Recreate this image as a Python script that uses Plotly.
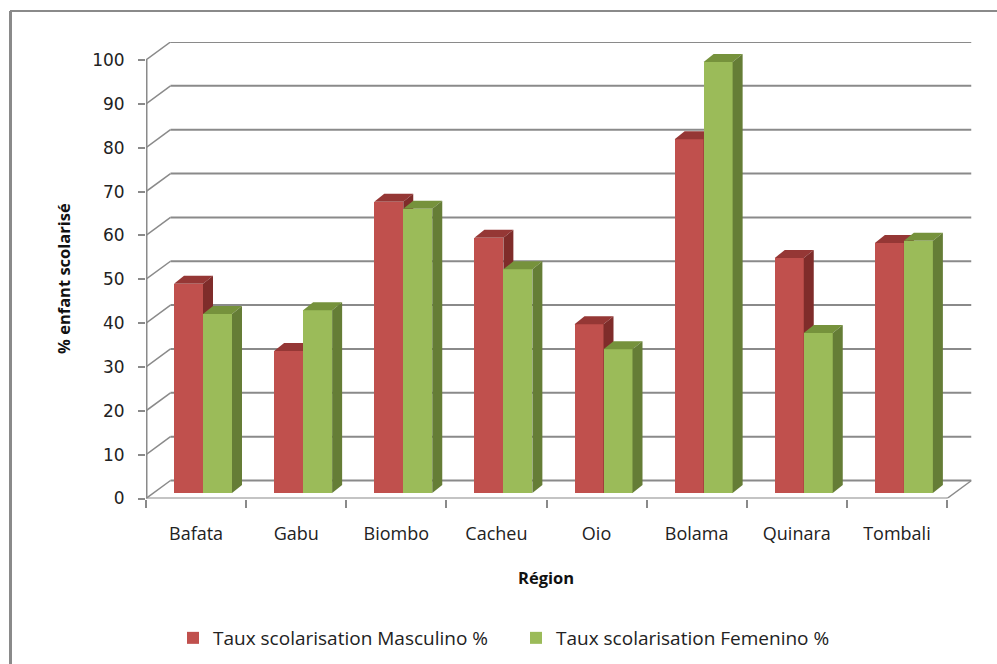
import plotly.graph_objects as go

categories = ["Bafata", "Gabu", "Biombo", "Cacheu", "Oio", "Bolama", "Quinara", "Tombali"]
masculino = [47.7, 32.4, 66.4, 58.2, 38.5, 80.7, 53.6, 57.0]
femenino = [40.8, 41.7, 64.8, 51.0, 32.8, 98.3, 36.5, 57.5]
y_ticks = list(range(0, 101, 10))
name_m = "Taux scolarisation Masculino %"
name_f = "Taux scolarisation Femenino %"

W, H = 997, 664
FONT = "Open Sans"
GRID = "#8a8a8a"
TEXT = "#222222"
RED = ("#C0504D", "#953735", "#7F2C2A")
GREEN = ("#9BBB59", "#76923C", "#657D36")

# Pixel layout of the pseudo-3D chart
X0, X1, Y0, Y100 = 146, 947, 498.5, 60
PXC = (X1 - X0) / len(categories)
PXV = (Y0 - Y100) / 100
WALL_DX, WALL_DY = 24.5 / PXC, 18 / PXV
BAR_DX, BAR_DY = 10 / PXC, 8 / PXV
BAR_BASE = 5.5 / PXV
BAR_W = 29 / PXC
BAR_OFF = 28 / PXC
x_max = len(categories) + WALL_DX
y_max = 100 + WALL_DY

fig = go.Figure()
pos = list(range(len(categories)))


def add_series(name, values, off, cols, xa, ya):
    fig.add_trace(go.Bar(x=pos, y=values, base=BAR_BASE, width=BAR_W, offset=off, name=name,
                         marker=dict(color=cols[0], line=dict(width=0)), xaxis=xa, yaxis=ya))
    for i, v in zip(pos, values):
        l, r = i + off, i + off + BAR_W
        b, t = BAR_BASE, BAR_BASE + v
        fig.add_trace(go.Scatter(x=[l, r, r + BAR_DX, l + BAR_DX, l], y=[t, t, t + BAR_DY, t + BAR_DY, t],
                                 fill="toself", fillcolor=cols[1], mode="none", showlegend=False,
                                 hoverinfo="skip", xaxis=xa, yaxis=ya))
        fig.add_trace(go.Scatter(x=[r, r + BAR_DX, r + BAR_DX, r, r], y=[b, b + BAR_DY, t + BAR_DY, t, b],
                                 fill="toself", fillcolor=cols[2], mode="none", showlegend=False,
                                 hoverinfo="skip", xaxis=xa, yaxis=ya))


add_series(name_m, masculino, BAR_OFF, RED, "x", "y")
add_series(name_f, femenino, BAR_OFF + BAR_W, GREEN, "x2", "y2")

shapes = []


def seg(x0, y0, x1, y1, w=2):
    shapes.append(dict(type="line", xref="x", yref="y", x0=x0, y0=y0, x1=x1, y1=y1,
                       layer="below", line=dict(color=GRID, width=w)))


for t in y_ticks:
    seg(0, t, WALL_DX, t + WALL_DY, 1.5)
    seg(WALL_DX, t + WALL_DY, x_max, t + WALL_DY, 2)
seg(0, 0, 0, 100, 3)
seg(0, 0, len(categories), 0, 2)
seg(len(categories), 0, x_max, WALL_DY, 1.5)

# Outer frame of the chart, open to the right and bottom
shapes.append(dict(type="line", xref="paper", yref="paper", x0=10 / W, x1=1, y0=1 - 11 / H, y1=1 - 11 / H,
                   line=dict(color=GRID, width=2)))
shapes.append(dict(type="line", xref="paper", yref="paper", x0=10.5 / W, x1=10.5 / W, y0=0, y1=1 - 11 / H,
                   line=dict(color=GRID, width=3)))

x_dom = [X0 / W, (X0 + x_max * PXC) / W]
y_dom = [1 - Y0 / H, 1 - (Y0 - y_max * PXV) / H]

fig.update_layout(
    width=W, height=H, margin=dict(l=0, r=0, t=0, b=0, pad=0),
    paper_bgcolor="white", plot_bgcolor="rgba(0,0,0,0)",
    barmode="overlay", bargap=0, shapes=shapes,
    font=dict(family=FONT, size=16, color=TEXT),
    xaxis=dict(domain=x_dom, range=[0, x_max], automargin=False, showgrid=False, zeroline=False, showline=False,
               tickmode="array", tickvals=[i + 0.5 for i in pos], ticktext=categories, ticks="",
               ticklabelstandoff=22, tickfont=dict(size=18, family=FONT, color=TEXT),
               minor=dict(ticks="outside", tickmode="linear", tick0=0, dtick=1, ticklen=8,
                          tickwidth=2, tickcolor=GRID, showgrid=False)),
    yaxis=dict(domain=y_dom, range=[0, y_max], automargin=False, showgrid=False, zeroline=False, showline=False,
               tickmode="array", tickvals=y_ticks, ticks="outside", ticklen=7, tickwidth=2, tickcolor=GRID,
               ticklabelstandoff=10, tickfont=dict(size=17, family="DejaVu Sans", color=TEXT)),
    xaxis2=dict(domain=x_dom, range=[0, x_max], automargin=False, overlaying="x", visible=False),
    yaxis2=dict(domain=y_dom, range=[0, y_max], automargin=False, overlaying="y", visible=False),
    legend=dict(orientation="h", x=173 / W, xanchor="left", y=1 - 638 / H, yanchor="middle",
                font=dict(size=19, family=FONT, color=TEXT), traceorder="normal",
                entrywidth=298, entrywidthmode="pixels", bgcolor="rgba(0,0,0,0)"),
    annotations=[
        dict(text="<b>Région</b>", xref="paper", yref="paper", x=546 / W, y=1 - 577 / H, showarrow=False,
             xanchor="center", yanchor="middle", font=dict(size=16.5, family=FONT, color="#111111")),
        dict(text="<b>% enfant scolarisé</b>", xref="paper", yref="paper", x=63 / W, y=1 - 279 / H, textangle=-90,
             xanchor="center", yanchor="middle", showarrow=False, font=dict(size=16.5, family=FONT, color="#111111")),
    ],
)

fig.write_html("out.html", post_script="document.body.style.margin='0';", config={"displayModeBar": False})
